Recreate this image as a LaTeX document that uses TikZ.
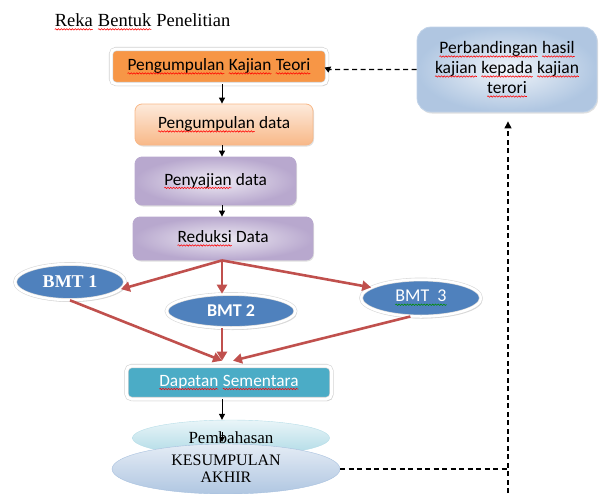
\documentclass[tikz,border=0pt]{standalone}
\usepackage{fontspec}
\setmainfont{Liberation Serif}
\newfontfamily\calfont{Carlito}
\usetikzlibrary{arrows.meta,shapes.geometric,shadows,calc,decorations.pathmorphing}
\definecolor{orangeF}{HTML}{F79646}
\definecolor{redA}{HTML}{C0504D}
\definecolor{blueE}{HTML}{4F81BD}
\definecolor{tealB}{HTML}{4BACC6}
\definecolor{lavIn}{HTML}{EEEAF3}
\definecolor{lavOut}{HTML}{B8A8CE}
\definecolor{peachT}{HTML}{FDEADB}
\definecolor{peachB}{HTML}{F8B888}
\tikzset{
  wvword/.style={shape=rectangle, inner sep=0pt, outer sep=0pt, minimum width=0pt, minimum height=0pt,
    draw=none, fill=none, anchor=base, sharp corners},
  wvline/.style={sharp corners, solid, line width=0.55pt, decorate, decoration={snake, amplitude=0.7pt, segment length=2.8pt}}
}
\newcommand\wavy[2]{\tikz[baseline=(w.base),x=1pt,y=1pt,sharp corners]{\node[wvword](w){#2};\draw[wvline,#1] ([yshift=-2.8pt]w.base west) -- ([yshift=-2.8pt]w.base east);}}
\newcommand\rwv[1]{\wavy{red}{#1}}
\newcommand\gwv[1]{\wavy{green!55!black}{#1}}
\tikzset{
  glowbox/.style={rectangle, rounded corners=5pt, draw=gray!35, line width=0.6pt,
    double=white, double distance=3pt,
    drop shadow={opacity=0.3, shadow xshift=1.5pt, shadow yshift=-2pt},
    font=\calfont\fontsize{17.3}{19}\selectfont, inner sep=0pt},
  softbox/.style={rectangle, rounded corners=7pt, line width=0.8pt,
    drop shadow={opacity=0.25, shadow xshift=1pt, shadow yshift=-1.5pt},
    font=\calfont\fontsize{17.3}{19}\selectfont, inner sep=0pt},
  lav/.style={softbox, draw=lavOut, inner color=lavIn, outer color=lavOut},
  bmt/.style={ellipse, fill=blueE, draw=gray!30, line width=0.6pt, double=white, double distance=2.5pt, text=white,
    drop shadow={opacity=0.3, shadow xshift=1.5pt, shadow yshift=-2pt}, inner sep=0pt},
  blk/.style={-{Triangle[length=6pt,width=6pt]}, line width=1pt, black},
  redarr/.style={-{Triangle[length=9pt,width=10pt]}, line width=2.6pt, redA},
  dsh/.style={dashed, dash pattern=on 5pt off 3.5pt, line width=1.1pt, black}
}
\begin{document}
\begin{tikzpicture}[x=1pt,y=-1pt]
\useasboundingbox (0,0) rectangle (604,493);
\coordinate (spine) at (222,0);
\node[font=\fontsize{18.5}{20}\selectfont, anchor=west] (title) at (51,22) {\rwv{Reka} \rwv{Bentuk} Penelitian};

\node[glowbox, fill=orangeF, minimum width=216pt, minimum height=35pt] (t1) at (219,66.5) {\rwv{Pengumpulan} \rwv{Kajian} \rwv{Teori}};
\node[softbox, draw=peachB, top color=peachT, bottom color=peachB, minimum width=178pt, minimum height=41pt] (t2) at (224,124.5) {\rwv{Pengumpulan} data};
\node[lav, minimum width=161pt, minimum height=48pt] (t3) at (215.5,181) {\rwv{Penyajian} data};
\node[lav, minimum width=180pt, minimum height=43pt] (t4) at (223,238.5) {\rwv{Reduksi} Data};

\node[bmt, minimum width=110pt, minimum height=36pt, font=\bfseries\fontsize{18}{20}\selectfont] (b1) at (70,282) {BMT 1};
\node[bmt, minimum width=129pt, minimum height=34pt, font=\calfont\bfseries\fontsize{18}{20}\selectfont] (b2) at (231,311) {BMT 2};
\node[bmt, minimum width=120pt, minimum height=37pt, font=\calfont\fontsize{18}{20}\selectfont] (b3) at (421,298) {\gwv{BMT\ \ 3}};

\node[glowbox, fill=tealB, text=white, minimum width=205pt, minimum height=33pt] (dap) at (229,382.5) {\rwv{Dapatan} \rwv{Sementara}};

\node[ellipse, draw=tealB!40, top color=tealB!12, bottom color=tealB!45, minimum width=197pt, minimum height=36pt, inner sep=0pt, font=\fontsize{17}{19}\selectfont, text depth=0pt] (pem) at (231,438) {Pembahasan};
\node[ellipse, draw=blueE!50, top color=blueE!15, bottom color=blueE!45, minimum width=228pt, minimum height=50pt, inner sep=0pt, align=center, font=\fontsize{16}{17}\selectfont] (kes) at (226,469) {KESUMPULAN\\AKHIR};

\node[rectangle, rounded corners=14pt, draw=blueE!35, line width=0.8pt, inner color=blueE!8, outer color=blueE!45,
  drop shadow={opacity=0.25, shadow xshift=1pt, shadow yshift=-1.5pt},
  minimum width=180pt, minimum height=85pt, align=center, font=\calfont\fontsize{17.5}{20}\selectfont] (perb) at (507,69.5) {\rwv{Perbandingan} \rwv{hasil}\\\rwv{kajian} \rwv{kepada} \rwv{kajian}\\\rwv{terori}};

% black arrows
\draw[blk] (t1.south -| spine) -- (t2.north -| spine);
\draw[blk] (t2.south -| spine) -- (t3.north -| spine);
\draw[blk] (t3.south -| spine) -- (t4.north -| spine);
\draw[blk] (dap.south -| spine) -- (pem.north -| spine);
\draw[blk, -{Triangle[length=5pt,width=5pt]}] ($(pem.center -| spine)+(0,-6)$) -- ($(pem.center -| spine)+(0,4)$);

% red arrows
\coordinate (r0) at (t4.south -| spine);
\draw[redarr] (r0) -- (b1.-8);
\draw[redarr] (r0) -- (b2.north -| spine);
\draw[redarr] (r0) -- (b3.168);
\coordinate (d0) at ($(dap.north -| spine)+(0,-5)$);
\draw[redarr] (b1.south) -- (d0);
\draw[redarr] (b2.south -| spine) -- (d0);
\draw[redarr] (b3.240) -- ($(d0)+(11,0)$);

% dashed connectors
\draw[dsh, -{Triangle[length=6pt,width=6pt]}] (perb.west) -- (perb.west -| t1.east) -- ([xshift=4pt]t1.east);
\coordinate (vx) at (508,493);
\draw[dsh] (kes.east) -- (kes.east -| vx);
\draw[dsh, -{Triangle[length=7pt,width=7pt]}] (vx) -- ($(perb.south -| vx)+(0,9)$);
\end{tikzpicture}
\end{document}
